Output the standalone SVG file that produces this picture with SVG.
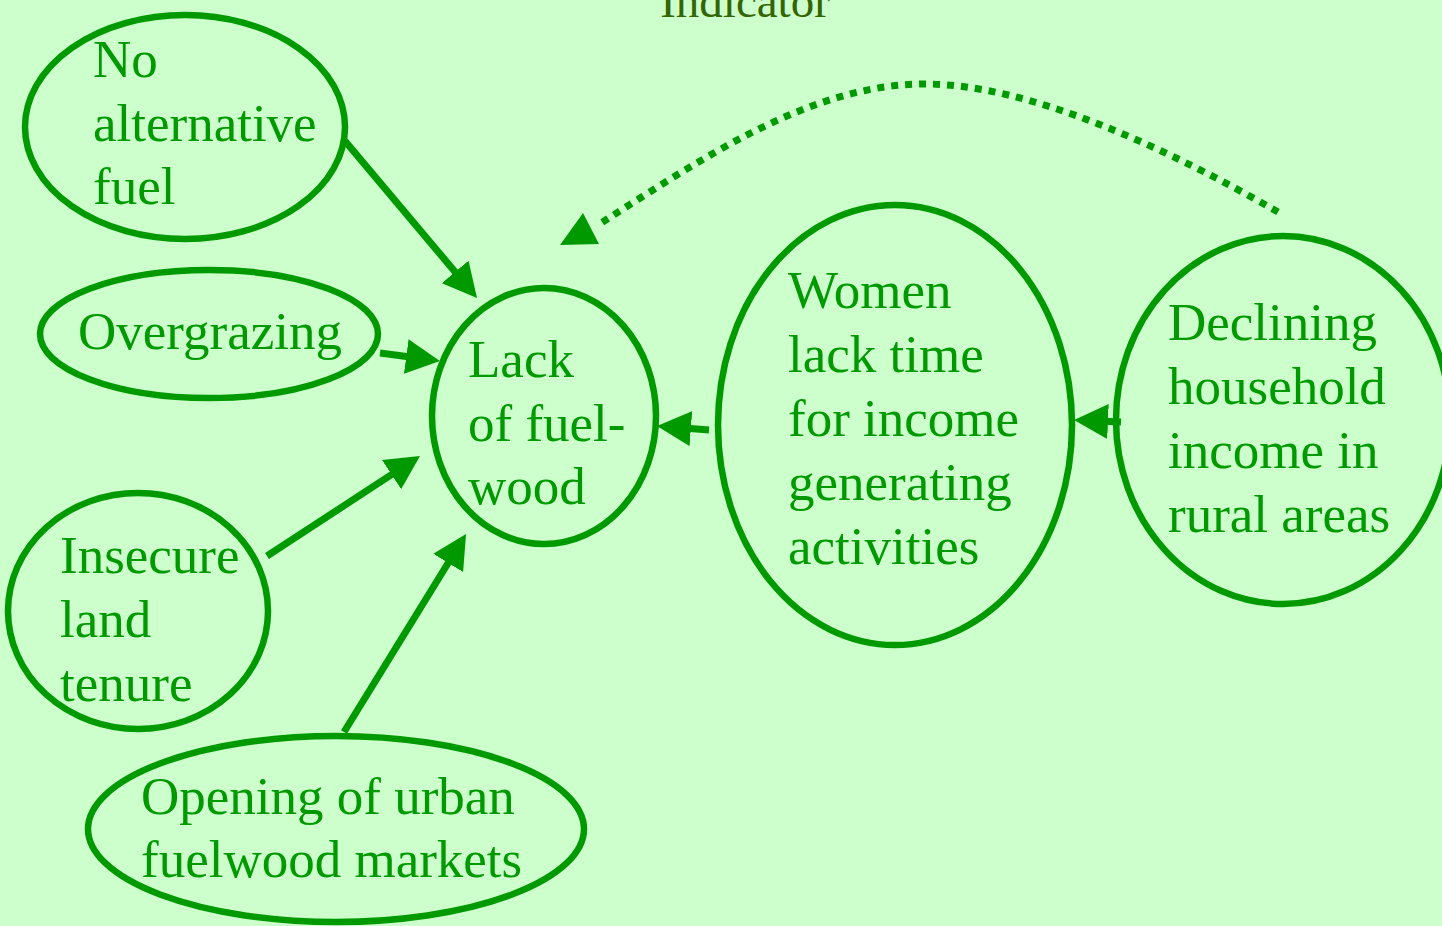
<svg xmlns="http://www.w3.org/2000/svg" width="1442" height="926" viewBox="0 0 1442 926">
<style>
.n{fill:none;stroke:#009900;stroke-width:6.5}
.t{font-family:"Liberation Serif","Times New Roman",serif;font-size:53px;fill:#009900}
.c{stroke:#009900;stroke-width:7;fill:none}
.d{stroke:#009900;stroke-width:7;fill:none;stroke-dasharray:7 7}
</style>
<defs>
<marker id="ah" viewBox="0 0 34 35" refX="4" refY="17.5" markerWidth="34" markerHeight="35" markerUnits="userSpaceOnUse" orient="auto">
<path d="M0,0 L34,17.5 L0,35 z" fill="#009900"/>
</marker>
</defs>
<rect width="1442" height="926" fill="#CCFFCC"/>
<text x="745" y="17" text-anchor="middle" style="font-family:'Liberation Serif','Times New Roman',serif;font-size:47px;fill:#336600">Indicator</text>
<g id="connectors">
<line class="c" x1="345" y1="141" x2="457.7" y2="275" marker-end="url(#ah)"/>
<line class="c" x1="380" y1="353" x2="410.2" y2="357" marker-end="url(#ah)"/>
<line class="c" x1="267" y1="556" x2="394.9" y2="472.4" marker-end="url(#ah)"/>
<line class="c" x1="344" y1="732" x2="450.3" y2="559.5" marker-end="url(#ah)"/>
<line class="c" x1="709" y1="430" x2="686.9" y2="428.3" marker-end="url(#ah)"/>
<line class="c" x1="1121" y1="422" x2="1104" y2="421.3" marker-end="url(#ah)"/>
<path class="d" d="M1278,212 C1170,150 1030,84 925,84 C810,84 700,160 598,225"/>
<polygon points="560,245 583,213 599,244" fill="#009900"/>
</g>
<g id="n1">
<ellipse class="n" cx="185" cy="127" rx="160" ry="112"/>
<text class="t"><tspan x="93" y="77">No</tspan><tspan x="93" y="141">alternative</tspan><tspan x="93" y="204">fuel</tspan></text>
</g>
<g id="n2">
<ellipse class="n" cx="209" cy="334" rx="169" ry="64"/>
<text class="t" x="78" y="349">Overgrazing</text>
</g>
<g id="n3">
<ellipse class="n" cx="544" cy="416" rx="112" ry="128"/>
<text class="t"><tspan x="468" y="377">Lack</tspan><tspan x="468" y="441">of fuel-</tspan><tspan x="468" y="504">wood</tspan></text>
</g>
<g id="n4">
<ellipse class="n" cx="895" cy="425" rx="177" ry="220"/>
<text class="t"><tspan x="788" y="308">Women</tspan><tspan x="788" y="372">lack time</tspan><tspan x="788" y="436">for income</tspan><tspan x="788" y="500">generating</tspan><tspan x="788" y="564">activities</tspan></text>
</g>
<g id="n5">
<ellipse class="n" cx="1283" cy="420" rx="167" ry="184"/>
<text class="t"><tspan x="1168" y="340">Declining</tspan><tspan x="1168" y="404">household</tspan><tspan x="1168" y="468">income in</tspan><tspan x="1168" y="532">rural areas</tspan></text>
</g>
<g id="n6">
<ellipse class="n" cx="138" cy="611" rx="130" ry="118"/>
<text class="t"><tspan x="60" y="573">Insecure</tspan><tspan x="60" y="637">land</tspan><tspan x="60" y="701">tenure</tspan></text>
</g>
<g id="n7">
<ellipse class="n" cx="336" cy="829" rx="248" ry="93"/>
<text class="t"><tspan x="141" y="814">Opening of urban</tspan><tspan x="141" y="877">fuelwood markets</tspan></text>
</g>
</svg>
